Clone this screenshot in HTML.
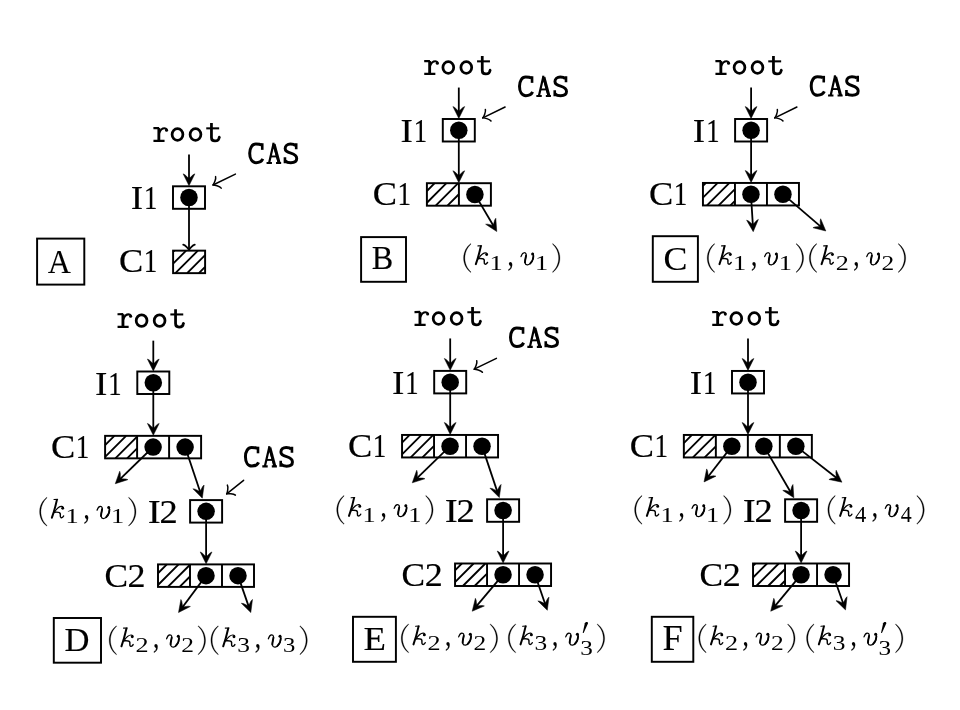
<!DOCTYPE html>
<html><head><meta charset="utf-8"><style>
html,body{margin:0;padding:0;background:#fff;width:960px;height:710px;overflow:hidden}
svg{display:block;filter:blur(0.3px)}
text{font-size:100px;font-kerning:none;fill:#000;stroke:#000;stroke-width:0}
.s{font-family:"Liberation Serif",serif}
.i{font-family:"Liberation Serif",serif;font-style:italic}
.m{font-family:"Liberation Mono",monospace}
.mb{font-family:"Liberation Mono",monospace;font-weight:bold}
.b{fill:none;stroke:#000;stroke-width:1.95}
.h{fill:none;stroke:#000;stroke-width:1.85}
.a{fill:none;stroke:#000;stroke-width:1.8}
.ah{fill:#000;stroke:#000;stroke-width:0.5;stroke-linejoin:round}
.t{fill:none;stroke:#000;stroke-width:1.5;stroke-linecap:round;stroke-linejoin:round}
</style></head><body>
<svg width="960" height="710" viewBox="0 0 960 710">
<rect x="173.00" y="186.30" width="32.00" height="22.50" class="b"/>
<circle cx="189.00" cy="197.55" r="8.75"/>
<g aria-label="root" transform="translate(-270.75 67.05)"><path d="M424.15 61.1L429.9 61.0M424.2 73.8L435.3 73.8" stroke-width="2.25" fill="none" stroke="#000"/><path d="M429.6 61.0L429.6 73.8" stroke-width="2.85" fill="none" stroke="#000"/><path d="M429.9 66.2C430.9 63.2 433.0 61.2 435.3 61.2C436.2 61.2 436.9 61.5 437.3 62.2" stroke-width="2.05" fill="none" stroke="#000" stroke-linecap="round"/><circle cx="437.3" cy="63.1" r="1.55"/><ellipse cx="448.25" cy="67.5" rx="5.4" ry="5.85" stroke-width="2.75" fill="none" stroke="#000"/><ellipse cx="466.25" cy="67.5" rx="5.4" ry="5.85" stroke-width="2.75" fill="none" stroke="#000"/><path d="M477.0 61.3L489.9 61.3" stroke-width="2.05" fill="none" stroke="#000"/><path d="M482.2 56.0L482.2 70.4C482.2 72.9 483.5 73.9 485.7 73.9C488.0 73.9 489.9 72.6 490.0 70.0" stroke-width="2.75" fill="none" stroke="#000"/><circle cx="490.0" cy="70.0" r="1.25"/></g>
<path d="M189.00 154.55L189.00 179.45" class="a"/>
<path d="M189.00 185.75L194.90 173.85L193.00 174.85L189.90 177.85L188.10 177.85L185.00 174.85L183.10 173.85Z" class="ah"/>
<text class="s" style="stroke-width:0.51" transform="matrix(0.3714 0 0 0.3409 130.75 209.36)">I</text>
<text class="s" style="stroke-width:0.59" transform="matrix(0.2676 0 0 0.3457 144.04 209.36)">1</text>
<path d="M173.10 251.95L174.40 250.65M173.10 263.70L186.15 250.65M175.40 273.15L197.90 250.65M187.15 273.15L205.10 255.20M198.90 273.15L205.10 266.95" class="h"/>
<rect x="173.10" y="250.65" width="32.00" height="22.50" class="b"/>
<path d="M189.00 197.55L189.00 250.05" class="a"/>
<path d="M183.20 244.61C185.38 244.98 188.64 248.96 189.00 250.05C189.36 248.96 192.62 244.98 194.80 244.61" class="t" style="stroke-width:1.75"/>
<text class="s" style="stroke-width:0.51" transform="matrix(0.3639 0 0 0.3471 119.05 272.47)">C</text>
<text class="s" style="stroke-width:0.60" transform="matrix(0.2704 0 0 0.3320 143.81 272.31)">1</text>
<path d="M235.40 174.10L213.00 185.00" class="t"/>
<path d="M215.59 176.62C216.29 178.95 213.90 184.12 213.00 185.00C214.25 184.83 219.79 186.15 221.20 188.13" class="t" style="stroke-width:1.5"/>
<g aria-label="CAS" transform="translate(-269.75 67.05)"><path d="M531.3 78.0C529.9 77.2 527.6 77.05 525.6 77.05C521.9 77.05 519.45 81.0 519.45 86.3C519.45 91.6 521.9 95.6 525.8 95.6C528.9 95.6 531.5 94.1 532.6 91.8" stroke-width="3.00" fill="none" stroke="#000"/><path d="M532.0 76.2L532.0 82.8" stroke-width="2.60" fill="none" stroke="#000"/><path d="M538.9 95.8L543.2 76.9M543.2 76.9L548.6 95.8" stroke-width="2.20" fill="none" stroke="#000" stroke-linejoin="round"/><path d="M543.9 77.2L548.9 95.8" stroke-width="2.90" fill="none" stroke="#000"/><path d="M542.1 76.6L544.3 76.6" stroke-width="1.90" fill="none" stroke="#000"/><path d="M540.4 89.4L547.0 89.4" stroke-width="1.90" fill="none" stroke="#000"/><path d="M536.3 95.9L541.7 95.9M545.8 95.9L550.9 95.9" stroke-width="2.10" fill="none" stroke="#000"/><path d="M565.3 78.6C563.9 77.2 562.0 77.0 560.2 77.0C557.0 77.0 554.9 78.8 554.9 81.4C554.9 84.3 557.6 85.3 560.6 86.1C564.2 87.1 566.45 88.4 566.45 91.4C566.45 94.3 564.0 95.65 560.6 95.65C558.3 95.65 556.2 95.0 554.9 93.6" stroke-width="2.95" fill="none" stroke="#000"/><path d="M565.95 76.2L565.95 82.2M554.7 90.3L554.7 96.3" stroke-width="2.60" fill="none" stroke="#000"/></g>
<rect x="37.1" y="238.6" width="47.20" height="46.00" class="b"/>
<text class="s" style="stroke-width:0.30" transform="matrix(0.3205 0 0 0.3423 47.84 273.25)">A</text>
<rect x="442.80" y="119.00" width="32.00" height="22.50" class="b"/>
<circle cx="458.80" cy="130.25" r="8.75"/>
<g aria-label="root" transform="translate(0.05 0.05)"><path d="M424.15 61.1L429.9 61.0M424.2 73.8L435.3 73.8" stroke-width="2.25" fill="none" stroke="#000"/><path d="M429.6 61.0L429.6 73.8" stroke-width="2.85" fill="none" stroke="#000"/><path d="M429.9 66.2C430.9 63.2 433.0 61.2 435.3 61.2C436.2 61.2 436.9 61.5 437.3 62.2" stroke-width="2.05" fill="none" stroke="#000" stroke-linecap="round"/><circle cx="437.3" cy="63.1" r="1.55"/><ellipse cx="448.25" cy="67.5" rx="5.4" ry="5.85" stroke-width="2.75" fill="none" stroke="#000"/><ellipse cx="466.25" cy="67.5" rx="5.4" ry="5.85" stroke-width="2.75" fill="none" stroke="#000"/><path d="M477.0 61.3L489.9 61.3" stroke-width="2.05" fill="none" stroke="#000"/><path d="M482.2 56.0L482.2 70.4C482.2 72.9 483.5 73.9 485.7 73.9C488.0 73.9 489.9 72.6 490.0 70.0" stroke-width="2.75" fill="none" stroke="#000"/><circle cx="490.0" cy="70.0" r="1.25"/></g>
<path d="M458.80 87.55L458.80 112.15" class="a"/>
<path d="M458.80 118.45L464.70 106.55L462.80 107.55L459.70 110.55L457.90 110.55L454.80 107.55L452.90 106.55Z" class="ah"/>
<text class="s" style="stroke-width:0.51" transform="matrix(0.3714 0 0 0.3409 400.55 142.06)">I</text>
<text class="s" style="stroke-width:0.59" transform="matrix(0.2676 0 0 0.3457 413.84 142.06)">1</text>
<path d="M426.90 191.00L434.70 183.20M426.90 202.75L446.45 183.20M435.70 205.70L458.20 183.20M447.45 205.70L458.90 194.25" class="h"/>
<rect x="426.90" y="183.20" width="64.00" height="22.50" class="b"/>
<line x1="458.90" y1="183.20" x2="458.90" y2="205.70" class="b"/>
<circle cx="474.90" cy="194.45" r="8.75"/>
<path d="M458.80 130.25L458.80 176.35" class="a"/>
<path d="M458.80 182.65L464.70 170.75L462.80 171.75L459.70 174.75L457.90 174.75L454.80 171.75L452.90 170.75Z" class="ah"/>
<text class="s" style="stroke-width:0.51" transform="matrix(0.3639 0 0 0.3471 372.85 205.02)">C</text>
<text class="s" style="stroke-width:0.60" transform="matrix(0.2704 0 0 0.3320 397.61 204.86)">1</text>
<path d="M505.10 107.00L482.80 117.90" class="t"/>
<path d="M485.38 109.52C486.07 111.85 483.70 117.01 482.80 117.90C484.05 117.73 489.59 119.03 491.00 121.02" class="t" style="stroke-width:1.5"/>
<g aria-label="CAS" transform="translate(0.05 0.05)"><path d="M531.3 78.0C529.9 77.2 527.6 77.05 525.6 77.05C521.9 77.05 519.45 81.0 519.45 86.3C519.45 91.6 521.9 95.6 525.8 95.6C528.9 95.6 531.5 94.1 532.6 91.8" stroke-width="3.00" fill="none" stroke="#000"/><path d="M532.0 76.2L532.0 82.8" stroke-width="2.60" fill="none" stroke="#000"/><path d="M538.9 95.8L543.2 76.9M543.2 76.9L548.6 95.8" stroke-width="2.20" fill="none" stroke="#000" stroke-linejoin="round"/><path d="M543.9 77.2L548.9 95.8" stroke-width="2.90" fill="none" stroke="#000"/><path d="M542.1 76.6L544.3 76.6" stroke-width="1.90" fill="none" stroke="#000"/><path d="M540.4 89.4L547.0 89.4" stroke-width="1.90" fill="none" stroke="#000"/><path d="M536.3 95.9L541.7 95.9M545.8 95.9L550.9 95.9" stroke-width="2.10" fill="none" stroke="#000"/><path d="M565.3 78.6C563.9 77.2 562.0 77.0 560.2 77.0C557.0 77.0 554.9 78.8 554.9 81.4C554.9 84.3 557.6 85.3 560.6 86.1C564.2 87.1 566.45 88.4 566.45 91.4C566.45 94.3 564.0 95.65 560.6 95.65C558.3 95.65 556.2 95.0 554.9 93.6" stroke-width="2.95" fill="none" stroke="#000"/><path d="M565.95 76.2L565.95 82.2M554.7 90.3L554.7 96.3" stroke-width="2.60" fill="none" stroke="#000"/></g>
<rect x="361.1" y="237.1" width="44.90" height="44.70" class="b"/>
<text class="s" style="stroke-width:0.31" transform="matrix(0.3224 0 0 0.3299 371.82 269.05)">B</text>
<rect x="735.10" y="119.00" width="32.00" height="22.50" class="b"/>
<circle cx="751.10" cy="130.25" r="8.75"/>
<g aria-label="root" transform="translate(291.25 0.05)"><path d="M424.15 61.1L429.9 61.0M424.2 73.8L435.3 73.8" stroke-width="2.25" fill="none" stroke="#000"/><path d="M429.6 61.0L429.6 73.8" stroke-width="2.85" fill="none" stroke="#000"/><path d="M429.9 66.2C430.9 63.2 433.0 61.2 435.3 61.2C436.2 61.2 436.9 61.5 437.3 62.2" stroke-width="2.05" fill="none" stroke="#000" stroke-linecap="round"/><circle cx="437.3" cy="63.1" r="1.55"/><ellipse cx="448.25" cy="67.5" rx="5.4" ry="5.85" stroke-width="2.75" fill="none" stroke="#000"/><ellipse cx="466.25" cy="67.5" rx="5.4" ry="5.85" stroke-width="2.75" fill="none" stroke="#000"/><path d="M477.0 61.3L489.9 61.3" stroke-width="2.05" fill="none" stroke="#000"/><path d="M482.2 56.0L482.2 70.4C482.2 72.9 483.5 73.9 485.7 73.9C488.0 73.9 489.9 72.6 490.0 70.0" stroke-width="2.75" fill="none" stroke="#000"/><circle cx="490.0" cy="70.0" r="1.25"/></g>
<path d="M751.10 87.55L751.10 112.15" class="a"/>
<path d="M751.10 118.45L757.00 106.55L755.10 107.55L752.00 110.55L750.20 110.55L747.10 107.55L745.20 106.55Z" class="ah"/>
<text class="s" style="stroke-width:0.51" transform="matrix(0.3714 0 0 0.3409 692.85 142.06)">I</text>
<text class="s" style="stroke-width:0.59" transform="matrix(0.2676 0 0 0.3457 706.14 142.06)">1</text>
<path d="M702.95 185.95L705.95 182.95M702.95 197.70L717.70 182.95M706.95 205.45L729.45 182.95M718.70 205.45L734.95 189.20M730.45 205.45L734.95 200.95" class="h"/>
<rect x="702.95" y="182.95" width="96.00" height="22.50" class="b"/>
<line x1="734.95" y1="182.95" x2="734.95" y2="205.45" class="b"/>
<line x1="766.95" y1="182.95" x2="766.95" y2="205.45" class="b"/>
<circle cx="750.95" cy="194.20" r="8.75"/>
<circle cx="782.95" cy="194.20" r="8.75"/>
<path d="M751.10 130.25L751.10 176.10" class="a"/>
<path d="M751.10 182.40L757.00 170.50L755.10 171.50L752.00 174.50L750.20 174.50L747.10 171.50L745.20 170.50Z" class="ah"/>
<text class="s" style="stroke-width:0.51" transform="matrix(0.3639 0 0 0.3471 648.90 204.77)">C</text>
<text class="s" style="stroke-width:0.60" transform="matrix(0.2704 0 0 0.3320 673.66 204.61)">1</text>
<path d="M796.90 107.00L774.80 117.90" class="t"/>
<path d="M777.35 109.51C778.05 111.84 775.70 117.01 774.80 117.90C776.05 117.73 781.59 119.01 783.01 120.99" class="t" style="stroke-width:1.5"/>
<g aria-label="CAS" transform="translate(291.75 -0.35)"><path d="M531.3 78.0C529.9 77.2 527.6 77.05 525.6 77.05C521.9 77.05 519.45 81.0 519.45 86.3C519.45 91.6 521.9 95.6 525.8 95.6C528.9 95.6 531.5 94.1 532.6 91.8" stroke-width="3.00" fill="none" stroke="#000"/><path d="M532.0 76.2L532.0 82.8" stroke-width="2.60" fill="none" stroke="#000"/><path d="M538.9 95.8L543.2 76.9M543.2 76.9L548.6 95.8" stroke-width="2.20" fill="none" stroke="#000" stroke-linejoin="round"/><path d="M543.9 77.2L548.9 95.8" stroke-width="2.90" fill="none" stroke="#000"/><path d="M542.1 76.6L544.3 76.6" stroke-width="1.90" fill="none" stroke="#000"/><path d="M540.4 89.4L547.0 89.4" stroke-width="1.90" fill="none" stroke="#000"/><path d="M536.3 95.9L541.7 95.9M545.8 95.9L550.9 95.9" stroke-width="2.10" fill="none" stroke="#000"/><path d="M565.3 78.6C563.9 77.2 562.0 77.0 560.2 77.0C557.0 77.0 554.9 78.8 554.9 81.4C554.9 84.3 557.6 85.3 560.6 86.1C564.2 87.1 566.45 88.4 566.45 91.4C566.45 94.3 564.0 95.65 560.6 95.65C558.3 95.65 556.2 95.0 554.9 93.6" stroke-width="2.95" fill="none" stroke="#000"/><path d="M565.95 76.2L565.95 82.2M554.7 90.3L554.7 96.3" stroke-width="2.60" fill="none" stroke="#000"/></g>
<rect x="652.8" y="236.2" width="45.10" height="45.60" class="b"/>
<text class="s" style="stroke-width:0.29" transform="matrix(0.3591 0 0 0.3423 663.38 269.52)">C</text>
<rect x="137.30" y="371.50" width="32.00" height="22.50" class="b"/>
<circle cx="153.30" cy="382.75" r="8.75"/>
<g aria-label="root" transform="translate(-306.65 253.15)"><path d="M424.15 61.1L429.9 61.0M424.2 73.8L435.3 73.8" stroke-width="2.25" fill="none" stroke="#000"/><path d="M429.6 61.0L429.6 73.8" stroke-width="2.85" fill="none" stroke="#000"/><path d="M429.9 66.2C430.9 63.2 433.0 61.2 435.3 61.2C436.2 61.2 436.9 61.5 437.3 62.2" stroke-width="2.05" fill="none" stroke="#000" stroke-linecap="round"/><circle cx="437.3" cy="63.1" r="1.55"/><ellipse cx="448.25" cy="67.5" rx="5.4" ry="5.85" stroke-width="2.75" fill="none" stroke="#000"/><ellipse cx="466.25" cy="67.5" rx="5.4" ry="5.85" stroke-width="2.75" fill="none" stroke="#000"/><path d="M477.0 61.3L489.9 61.3" stroke-width="2.05" fill="none" stroke="#000"/><path d="M482.2 56.0L482.2 70.4C482.2 72.9 483.5 73.9 485.7 73.9C488.0 73.9 489.9 72.6 490.0 70.0" stroke-width="2.75" fill="none" stroke="#000"/><circle cx="490.0" cy="70.0" r="1.25"/></g>
<path d="M153.30 340.65L153.30 364.65" class="a"/>
<path d="M153.30 370.95L159.20 359.05L157.30 360.05L154.20 363.05L152.40 363.05L149.30 360.05L147.40 359.05Z" class="ah"/>
<text class="s" style="stroke-width:0.51" transform="matrix(0.3714 0 0 0.3409 95.05 394.56)">I</text>
<text class="s" style="stroke-width:0.59" transform="matrix(0.2676 0 0 0.3457 108.34 394.56)">1</text>
<path d="M105.10 445.10L114.35 435.85M105.10 456.85L126.10 435.85M115.35 458.35L137.10 436.60M127.10 458.35L137.10 448.35" class="h"/>
<rect x="105.10" y="435.85" width="96.00" height="22.50" class="b"/>
<line x1="137.10" y1="435.85" x2="137.10" y2="458.35" class="b"/>
<line x1="169.10" y1="435.85" x2="169.10" y2="458.35" class="b"/>
<circle cx="153.10" cy="447.10" r="8.75"/>
<circle cx="185.10" cy="447.10" r="8.75"/>
<path d="M153.30 382.75L153.30 429.00" class="a"/>
<path d="M153.30 435.30L159.20 423.40L157.30 424.40L154.20 427.40L152.40 427.40L149.30 424.40L147.40 423.40Z" class="ah"/>
<text class="s" style="stroke-width:0.51" transform="matrix(0.3639 0 0 0.3471 51.05 457.67)">C</text>
<text class="s" style="stroke-width:0.60" transform="matrix(0.2704 0 0 0.3320 75.81 457.51)">1</text>
<rect x="190.10" y="500.10" width="32.00" height="22.50" class="b"/>
<circle cx="206.10" cy="511.35" r="8.75"/>
<text class="s" style="stroke-width:0.49" transform="matrix(0.3905 0 0 0.3393 147.78 522.71)">I</text>
<text class="s" style="stroke-width:0.51" transform="matrix(0.3647 0 0 0.3394 159.59 522.71)">2</text>
<path d="M158.00 573.25L166.85 564.40M158.00 585.00L178.60 564.40M167.85 586.90L190.00 564.75M179.60 586.90L190.00 576.50" class="h"/>
<rect x="158.00" y="564.40" width="96.00" height="22.50" class="b"/>
<line x1="190.00" y1="564.40" x2="190.00" y2="586.90" class="b"/>
<line x1="222.00" y1="564.40" x2="222.00" y2="586.90" class="b"/>
<circle cx="206.00" cy="575.65" r="8.75"/>
<circle cx="238.00" cy="575.65" r="8.75"/>
<path d="M206.10 511.35L206.10 557.55" class="a"/>
<path d="M206.10 563.85L212.00 551.95L210.10 552.95L207.00 555.95L205.20 555.95L202.10 552.95L200.20 551.95Z" class="ah"/>
<text class="s" style="stroke-width:0.51" transform="matrix(0.3534 0 0 0.3471 104.54 586.87)">C</text>
<text class="s" style="stroke-width:0.51" transform="matrix(0.3610 0 0 0.3401 127.60 586.76)">2</text>
<path d="M243.60 480.30L226.70 493.90" class="t"/>
<path d="M227.36 485.15C228.56 487.27 227.38 492.84 226.70 493.90C227.89 493.46 233.57 493.51 235.39 495.12" class="t" style="stroke-width:1.5"/>
<g aria-label="CAS" transform="translate(-274.00 370.50)"><path d="M531.3 78.0C529.9 77.2 527.6 77.05 525.6 77.05C521.9 77.05 519.45 81.0 519.45 86.3C519.45 91.6 521.9 95.6 525.8 95.6C528.9 95.6 531.5 94.1 532.6 91.8" stroke-width="3.00" fill="none" stroke="#000"/><path d="M532.0 76.2L532.0 82.8" stroke-width="2.60" fill="none" stroke="#000"/><path d="M538.9 95.8L543.2 76.9M543.2 76.9L548.6 95.8" stroke-width="2.20" fill="none" stroke="#000" stroke-linejoin="round"/><path d="M543.9 77.2L548.9 95.8" stroke-width="2.90" fill="none" stroke="#000"/><path d="M542.1 76.6L544.3 76.6" stroke-width="1.90" fill="none" stroke="#000"/><path d="M540.4 89.4L547.0 89.4" stroke-width="1.90" fill="none" stroke="#000"/><path d="M536.3 95.9L541.7 95.9M545.8 95.9L550.9 95.9" stroke-width="2.10" fill="none" stroke="#000"/><path d="M565.3 78.6C563.9 77.2 562.0 77.0 560.2 77.0C557.0 77.0 554.9 78.8 554.9 81.4C554.9 84.3 557.6 85.3 560.6 86.1C564.2 87.1 566.45 88.4 566.45 91.4C566.45 94.3 564.0 95.65 560.6 95.65C558.3 95.65 556.2 95.0 554.9 93.6" stroke-width="2.95" fill="none" stroke="#000"/><path d="M565.95 76.2L565.95 82.2M554.7 90.3L554.7 96.3" stroke-width="2.60" fill="none" stroke="#000"/></g>
<rect x="53.8" y="618.0" width="47.20" height="44.70" class="b"/>
<text class="s" style="stroke-width:0.29" transform="matrix(0.3459 0 0 0.3411 64.55 650.68)">D</text>
<rect x="434.20" y="370.90" width="32.00" height="22.50" class="b"/>
<circle cx="450.20" cy="382.15" r="8.75"/>
<g aria-label="root" transform="translate(-9.65 250.95)"><path d="M424.15 61.1L429.9 61.0M424.2 73.8L435.3 73.8" stroke-width="2.25" fill="none" stroke="#000"/><path d="M429.6 61.0L429.6 73.8" stroke-width="2.85" fill="none" stroke="#000"/><path d="M429.9 66.2C430.9 63.2 433.0 61.2 435.3 61.2C436.2 61.2 436.9 61.5 437.3 62.2" stroke-width="2.05" fill="none" stroke="#000" stroke-linecap="round"/><circle cx="437.3" cy="63.1" r="1.55"/><ellipse cx="448.25" cy="67.5" rx="5.4" ry="5.85" stroke-width="2.75" fill="none" stroke="#000"/><ellipse cx="466.25" cy="67.5" rx="5.4" ry="5.85" stroke-width="2.75" fill="none" stroke="#000"/><path d="M477.0 61.3L489.9 61.3" stroke-width="2.05" fill="none" stroke="#000"/><path d="M482.2 56.0L482.2 70.4C482.2 72.9 483.5 73.9 485.7 73.9C488.0 73.9 489.9 72.6 490.0 70.0" stroke-width="2.75" fill="none" stroke="#000"/><circle cx="490.0" cy="70.0" r="1.25"/></g>
<path d="M450.20 338.45L450.20 364.05" class="a"/>
<path d="M450.20 370.35L456.10 358.45L454.20 359.45L451.10 362.45L449.30 362.45L446.20 359.45L444.30 358.45Z" class="ah"/>
<text class="s" style="stroke-width:0.51" transform="matrix(0.3714 0 0 0.3409 391.95 393.96)">I</text>
<text class="s" style="stroke-width:0.59" transform="matrix(0.2676 0 0 0.3457 405.24 393.96)">1</text>
<path d="M402.05 442.65L409.75 434.95M402.05 454.40L421.50 434.95M410.75 457.45L433.25 434.95M422.50 457.45L434.05 445.90" class="h"/>
<rect x="402.05" y="434.95" width="96.00" height="22.50" class="b"/>
<line x1="434.05" y1="434.95" x2="434.05" y2="457.45" class="b"/>
<line x1="466.05" y1="434.95" x2="466.05" y2="457.45" class="b"/>
<circle cx="450.05" cy="446.20" r="8.75"/>
<circle cx="482.05" cy="446.20" r="8.75"/>
<path d="M450.20 382.15L450.20 428.10" class="a"/>
<path d="M450.20 434.40L456.10 422.50L454.20 423.50L451.10 426.50L449.30 426.50L446.20 423.50L444.30 422.50Z" class="ah"/>
<text class="s" style="stroke-width:0.51" transform="matrix(0.3639 0 0 0.3471 348.00 456.77)">C</text>
<text class="s" style="stroke-width:0.60" transform="matrix(0.2704 0 0 0.3320 372.76 456.61)">1</text>
<rect x="487.10" y="499.30" width="32.00" height="22.50" class="b"/>
<circle cx="503.10" cy="510.55" r="8.75"/>
<text class="s" style="stroke-width:0.49" transform="matrix(0.3905 0 0 0.3393 444.78 521.91)">I</text>
<text class="s" style="stroke-width:0.51" transform="matrix(0.3647 0 0 0.3394 456.59 521.91)">2</text>
<path d="M455.05 570.30L461.85 563.50M455.05 582.05L473.60 563.50M462.85 586.00L485.35 563.50M474.60 586.00L487.05 573.55M486.35 586.00L487.05 585.30" class="h"/>
<rect x="455.05" y="563.50" width="96.00" height="22.50" class="b"/>
<line x1="487.05" y1="563.50" x2="487.05" y2="586.00" class="b"/>
<line x1="519.05" y1="563.50" x2="519.05" y2="586.00" class="b"/>
<circle cx="503.05" cy="574.75" r="8.75"/>
<circle cx="535.05" cy="574.75" r="8.75"/>
<path d="M503.10 510.55L503.10 556.65" class="a"/>
<path d="M503.10 562.95L509.00 551.05L507.10 552.05L504.00 555.05L502.20 555.05L499.10 552.05L497.20 551.05Z" class="ah"/>
<text class="s" style="stroke-width:0.51" transform="matrix(0.3534 0 0 0.3471 401.59 585.97)">C</text>
<text class="s" style="stroke-width:0.51" transform="matrix(0.3610 0 0 0.3401 424.65 585.86)">2</text>
<path d="M496.40 358.30L474.20 369.20" class="t"/>
<path d="M476.77 360.81C477.46 363.14 475.10 368.31 474.20 369.20C475.45 369.03 480.99 370.32 482.41 372.30" class="t" style="stroke-width:1.5"/>
<g aria-label="CAS" transform="translate(-8.95 250.95)"><path d="M531.3 78.0C529.9 77.2 527.6 77.05 525.6 77.05C521.9 77.05 519.45 81.0 519.45 86.3C519.45 91.6 521.9 95.6 525.8 95.6C528.9 95.6 531.5 94.1 532.6 91.8" stroke-width="3.00" fill="none" stroke="#000"/><path d="M532.0 76.2L532.0 82.8" stroke-width="2.60" fill="none" stroke="#000"/><path d="M538.9 95.8L543.2 76.9M543.2 76.9L548.6 95.8" stroke-width="2.20" fill="none" stroke="#000" stroke-linejoin="round"/><path d="M543.9 77.2L548.9 95.8" stroke-width="2.90" fill="none" stroke="#000"/><path d="M542.1 76.6L544.3 76.6" stroke-width="1.90" fill="none" stroke="#000"/><path d="M540.4 89.4L547.0 89.4" stroke-width="1.90" fill="none" stroke="#000"/><path d="M536.3 95.9L541.7 95.9M545.8 95.9L550.9 95.9" stroke-width="2.10" fill="none" stroke="#000"/><path d="M565.3 78.6C563.9 77.2 562.0 77.0 560.2 77.0C557.0 77.0 554.9 78.8 554.9 81.4C554.9 84.3 557.6 85.3 560.6 86.1C564.2 87.1 566.45 88.4 566.45 91.4C566.45 94.3 564.0 95.65 560.6 95.65C558.3 95.65 556.2 95.0 554.9 93.6" stroke-width="2.95" fill="none" stroke="#000"/><path d="M565.95 76.2L565.95 82.2M554.7 90.3L554.7 96.3" stroke-width="2.60" fill="none" stroke="#000"/></g>
<rect x="353.0" y="616.8" width="42.90" height="45.00" class="b"/>
<text class="s" style="stroke-width:0.28" transform="matrix(0.3683 0 0 0.3436 363.39 649.75)">E</text>
<rect x="732.00" y="370.95" width="32.00" height="22.50" class="b"/>
<circle cx="748.00" cy="382.20" r="8.75"/>
<g aria-label="root" transform="translate(288.05 251.00)"><path d="M424.15 61.1L429.9 61.0M424.2 73.8L435.3 73.8" stroke-width="2.25" fill="none" stroke="#000"/><path d="M429.6 61.0L429.6 73.8" stroke-width="2.85" fill="none" stroke="#000"/><path d="M429.9 66.2C430.9 63.2 433.0 61.2 435.3 61.2C436.2 61.2 436.9 61.5 437.3 62.2" stroke-width="2.05" fill="none" stroke="#000" stroke-linecap="round"/><circle cx="437.3" cy="63.1" r="1.55"/><ellipse cx="448.25" cy="67.5" rx="5.4" ry="5.85" stroke-width="2.75" fill="none" stroke="#000"/><ellipse cx="466.25" cy="67.5" rx="5.4" ry="5.85" stroke-width="2.75" fill="none" stroke="#000"/><path d="M477.0 61.3L489.9 61.3" stroke-width="2.05" fill="none" stroke="#000"/><path d="M482.2 56.0L482.2 70.4C482.2 72.9 483.5 73.9 485.7 73.9C488.0 73.9 489.9 72.6 490.0 70.0" stroke-width="2.75" fill="none" stroke="#000"/><circle cx="490.0" cy="70.0" r="1.25"/></g>
<path d="M748.00 338.50L748.00 364.10" class="a"/>
<path d="M748.00 370.40L753.90 358.50L752.00 359.50L748.90 362.50L747.10 362.50L744.00 359.50L742.10 358.50Z" class="ah"/>
<text class="s" style="stroke-width:0.51" transform="matrix(0.3714 0 0 0.3409 689.75 394.01)">I</text>
<text class="s" style="stroke-width:0.59" transform="matrix(0.2676 0 0 0.3457 703.04 394.01)">1</text>
<path d="M683.85 443.05L691.95 434.95M683.85 454.80L703.70 434.95M692.95 457.45L715.45 434.95M704.70 457.45L715.85 446.30" class="h"/>
<rect x="683.85" y="434.95" width="128.00" height="22.50" class="b"/>
<line x1="715.85" y1="434.95" x2="715.85" y2="457.45" class="b"/>
<line x1="747.85" y1="434.95" x2="747.85" y2="457.45" class="b"/>
<line x1="779.85" y1="434.95" x2="779.85" y2="457.45" class="b"/>
<circle cx="731.85" cy="446.20" r="8.75"/>
<circle cx="763.85" cy="446.20" r="8.75"/>
<circle cx="795.85" cy="446.20" r="8.75"/>
<path d="M748.00 382.20L748.00 428.10" class="a"/>
<path d="M748.00 434.40L753.90 422.50L752.00 423.50L748.90 426.50L747.10 426.50L744.00 423.50L742.10 422.50Z" class="ah"/>
<text class="s" style="stroke-width:0.51" transform="matrix(0.3639 0 0 0.3471 629.80 456.77)">C</text>
<text class="s" style="stroke-width:0.60" transform="matrix(0.2704 0 0 0.3320 654.56 456.61)">1</text>
<rect x="785.10" y="499.30" width="32.00" height="22.50" class="b"/>
<circle cx="801.10" cy="510.55" r="8.75"/>
<text class="s" style="stroke-width:0.49" transform="matrix(0.3905 0 0 0.3393 742.78 521.91)">I</text>
<text class="s" style="stroke-width:0.51" transform="matrix(0.3647 0 0 0.3394 754.59 521.91)">2</text>
<path d="M753.05 565.75L755.30 563.50M753.05 577.50L767.05 563.50M756.30 586.00L778.80 563.50M768.05 586.00L785.05 569.00M779.80 586.00L785.05 580.75" class="h"/>
<rect x="753.05" y="563.50" width="96.00" height="22.50" class="b"/>
<line x1="785.05" y1="563.50" x2="785.05" y2="586.00" class="b"/>
<line x1="817.05" y1="563.50" x2="817.05" y2="586.00" class="b"/>
<circle cx="801.05" cy="574.75" r="8.75"/>
<circle cx="833.05" cy="574.75" r="8.75"/>
<path d="M801.10 510.55L801.10 556.65" class="a"/>
<path d="M801.10 562.95L807.00 551.05L805.10 552.05L802.00 555.05L800.20 555.05L797.10 552.05L795.20 551.05Z" class="ah"/>
<text class="s" style="stroke-width:0.51" transform="matrix(0.3534 0 0 0.3471 699.59 585.97)">C</text>
<text class="s" style="stroke-width:0.51" transform="matrix(0.3610 0 0 0.3401 722.65 585.86)">2</text>
<rect x="651.8" y="616.8" width="41.50" height="45.00" class="b"/>
<text class="s" style="stroke-width:0.28" transform="matrix(0.3624 0 0 0.3482 662.51 649.85)">F</text>
<path d="M474.90 194.40L493.56 226.08" class="a"/>
<path d="M496.75 231.51L495.80 218.26L494.67 220.09L493.52 224.24L491.97 225.16L487.77 224.15L485.63 224.25Z" class="ah"/>
<path d="M750.95 194.10L752.84 225.36" class="a"/>
<path d="M753.22 231.65L758.39 219.42L756.55 220.53L753.64 223.71L751.84 223.82L748.57 221.01L746.61 220.13Z" class="ah"/>
<path d="M782.95 194.10L821.05 226.89" class="a"/>
<path d="M825.83 231.00L820.66 218.76L820.17 220.85L820.43 225.16L819.25 226.53L814.96 226.92L812.96 227.71Z" class="ah"/>
<path d="M153.10 447.00L119.81 479.32" class="a"/>
<path d="M115.28 483.71L127.93 479.65L125.89 478.99L121.58 478.85L120.33 477.56L120.32 473.25L119.71 471.19Z" class="ah"/>
<path d="M185.10 447.00L200.29 492.21" class="a"/>
<path d="M202.30 498.18L204.10 485.03L202.62 486.58L200.63 490.41L198.93 490.98L195.03 489.13L192.91 488.78Z" class="ah"/>
<path d="M206.00 575.60L182.28 607.49" class="a"/>
<path d="M178.52 612.54L190.36 606.51L188.24 606.18L183.96 606.74L182.51 605.66L181.82 601.41L180.89 599.47Z" class="ah"/>
<path d="M238.00 575.60L248.74 606.63" class="a"/>
<path d="M250.80 612.58L252.48 599.41L251.01 600.97L249.07 604.82L247.36 605.41L243.45 603.59L241.33 603.27Z" class="ah"/>
<path d="M450.05 446.10L416.80 478.42" class="a"/>
<path d="M412.28 482.81L424.93 478.75L422.89 478.08L418.58 477.95L417.32 476.66L417.31 472.34L416.71 470.28Z" class="ah"/>
<path d="M482.05 446.10L497.29 491.61" class="a"/>
<path d="M499.30 497.58L501.11 484.43L499.63 485.98L497.64 489.81L495.93 490.38L492.04 488.52L489.92 488.17Z" class="ah"/>
<path d="M503.05 574.70L476.27 606.42" class="a"/>
<path d="M472.21 611.23L484.39 605.94L482.29 605.48L477.99 605.77L476.62 604.61L476.18 600.32L475.38 598.33Z" class="ah"/>
<path d="M535.05 574.70L545.25 604.33" class="a"/>
<path d="M547.30 610.28L549.00 597.11L547.53 598.68L545.58 602.52L543.88 603.11L539.97 601.28L537.85 600.95Z" class="ah"/>
<path d="M731.85 446.10L707.88 476.96" class="a"/>
<path d="M704.02 481.94L715.98 476.16L713.86 475.78L709.57 476.25L708.15 475.15L707.54 470.87L706.66 468.92Z" class="ah"/>
<path d="M763.85 446.10L790.69 492.31" class="a"/>
<path d="M793.85 497.76L792.98 484.51L791.84 486.32L790.66 490.48L789.11 491.38L784.92 490.34L782.77 490.43Z" class="ah"/>
<path d="M795.85 446.10L836.98 478.30" class="a"/>
<path d="M841.94 482.18L836.20 470.20L835.82 472.32L836.27 476.61L835.16 478.02L830.89 478.61L828.93 479.49Z" class="ah"/>
<path d="M801.05 574.70L774.73 606.38" class="a"/>
<path d="M770.71 611.23L782.85 605.85L780.75 605.40L776.45 605.73L775.06 604.58L774.60 600.29L773.77 598.31Z" class="ah"/>
<path d="M833.05 574.70L843.40 603.94" class="a"/>
<path d="M845.50 609.88L847.09 596.70L845.63 598.27L843.71 602.14L842.02 602.74L838.09 600.94L835.97 600.63Z" class="ah"/>
<g transform="matrix(0.9740 0 0 0.9931 463.55 243.60)"><path d="M7.4 0.0C2.5 3.7 0.0 9.0 0.0 14.55C0.0 20.1 2.5 25.4 7.4 29.1L7.7 28.6C3.7 25.1 1.35 19.9 1.35 14.55C1.35 9.2 3.7 4.0 7.7 0.5Z" stroke="#000" stroke-width="0.25"/></g>
<g transform="matrix(1.0000 0 0 1.0000 474.65 245.20)"><path d="M6.2 1.1 C5.0 6.5 2.8 14.5 1.2 18.9" fill="none" stroke="#000" stroke-width="2.0" stroke-linecap="round" stroke-linejoin="round"/><path d="M3.3 0.7 L6.9 0.55" fill="none" stroke="#000" stroke-width="1.15" stroke-linecap="round" stroke-linejoin="round"/><path d="M3.5 13.7 C5.5 10.6 8.5 7.5 10.9 7.6 C12.4 7.7 12.7 8.6 12.4 9.5" fill="none" stroke="#000" stroke-width="1.2" stroke-linecap="round" stroke-linejoin="round"/><path d="M3.8 13.4 C6.0 13.2 9.3 12.9 9.6 15.0 C9.8 16.6 9.0 18.5 10.4 18.9 C11.6 19.2 12.5 18.0 12.9 17.2" fill="none" stroke="#000" stroke-width="1.45" stroke-linecap="round" stroke-linejoin="round"/><circle cx="12.0" cy="9.4" r="1.45"/></g>
<text class="s" transform="matrix(0.2642 0 0 0.2196 489.43 269.80)">1</text>
<text class="s" style="stroke-width:0.61" transform="matrix(0.2498 0 0 0.3434 507.39 265.53)">,</text>
<g transform="matrix(1.0000 0 0 1.0000 520.45 252.00)"><path d="M0.55 4.6 C1.2 2.6 2.4 0.8 3.8 0.75 C5.8 0.7 6.1 2.6 5.4 5.2 C4.8 7.4 4.3 9.0 4.6 10.8 C4.9 12.6 6.2 13.0 7.4 12.9 C10.5 12.6 13.0 8.5 13.0 4.0 C13.0 2.4 12.7 1.6 12.3 1.3" fill="none" stroke="#000" stroke-width="1.25" stroke-linecap="round" stroke-linejoin="round"/><path d="M5.6 3.6 C5.2 6.0 4.5 8.2 4.55 10.4" fill="none" stroke="#000" stroke-width="1.9" stroke-linecap="round" stroke-linejoin="round"/><path d="M13.0 3.8 C13.0 6.5 11.8 9.5 9.6 11.6" fill="none" stroke="#000" stroke-width="1.7" stroke-linecap="round" stroke-linejoin="round"/><circle cx="12.2" cy="2.0" r="1.5"/></g>
<text class="s" transform="matrix(0.2642 0 0 0.2196 535.03 269.80)">1</text>
<g transform="matrix(0.9740 0 0 0.9931 552.45 243.60)"><path d="M0.3 0.0C5.2 3.7 7.7 9.0 7.7 14.55C7.7 20.1 5.2 25.4 0.3 29.1L0.0 28.6C4.0 25.1 6.35 19.9 6.35 14.55C6.35 9.2 4.0 4.0 0.0 0.5Z" stroke="#000" stroke-width="0.25"/></g>
<g transform="matrix(0.9740 0 0 0.9931 707.20 243.60)"><path d="M7.4 0.0C2.5 3.7 0.0 9.0 0.0 14.55C0.0 20.1 2.5 25.4 7.4 29.1L7.7 28.6C3.7 25.1 1.35 19.9 1.35 14.55C1.35 9.2 3.7 4.0 7.7 0.5Z" stroke="#000" stroke-width="0.25"/></g>
<g transform="matrix(1.0000 0 0 1.0000 718.30 245.20)"><path d="M6.2 1.1 C5.0 6.5 2.8 14.5 1.2 18.9" fill="none" stroke="#000" stroke-width="2.0" stroke-linecap="round" stroke-linejoin="round"/><path d="M3.3 0.7 L6.9 0.55" fill="none" stroke="#000" stroke-width="1.15" stroke-linecap="round" stroke-linejoin="round"/><path d="M3.5 13.7 C5.5 10.6 8.5 7.5 10.9 7.6 C12.4 7.7 12.7 8.6 12.4 9.5" fill="none" stroke="#000" stroke-width="1.2" stroke-linecap="round" stroke-linejoin="round"/><path d="M3.8 13.4 C6.0 13.2 9.3 12.9 9.6 15.0 C9.8 16.6 9.0 18.5 10.4 18.9 C11.6 19.2 12.5 18.0 12.9 17.2" fill="none" stroke="#000" stroke-width="1.45" stroke-linecap="round" stroke-linejoin="round"/><circle cx="12.0" cy="9.4" r="1.45"/></g>
<text class="s" transform="matrix(0.2642 0 0 0.2196 733.08 269.80)">1</text>
<text class="s" style="stroke-width:0.61" transform="matrix(0.2498 0 0 0.3434 751.04 265.53)">,</text>
<g transform="matrix(1.0000 0 0 1.0000 764.10 252.00)"><path d="M0.55 4.6 C1.2 2.6 2.4 0.8 3.8 0.75 C5.8 0.7 6.1 2.6 5.4 5.2 C4.8 7.4 4.3 9.0 4.6 10.8 C4.9 12.6 6.2 13.0 7.4 12.9 C10.5 12.6 13.0 8.5 13.0 4.0 C13.0 2.4 12.7 1.6 12.3 1.3" fill="none" stroke="#000" stroke-width="1.25" stroke-linecap="round" stroke-linejoin="round"/><path d="M5.6 3.6 C5.2 6.0 4.5 8.2 4.55 10.4" fill="none" stroke="#000" stroke-width="1.9" stroke-linecap="round" stroke-linejoin="round"/><path d="M13.0 3.8 C13.0 6.5 11.8 9.5 9.6 11.6" fill="none" stroke="#000" stroke-width="1.7" stroke-linecap="round" stroke-linejoin="round"/><circle cx="12.2" cy="2.0" r="1.5"/></g>
<text class="s" transform="matrix(0.2642 0 0 0.2196 778.68 269.80)">1</text>
<g transform="matrix(0.9740 0 0 0.9931 796.10 243.60)"><path d="M0.3 0.0C5.2 3.7 7.7 9.0 7.7 14.55C7.7 20.1 5.2 25.4 0.3 29.1L0.0 28.6C4.0 25.1 6.35 19.9 6.35 14.55C6.35 9.2 4.0 4.0 0.0 0.5Z" stroke="#000" stroke-width="0.25"/></g>
<g transform="matrix(0.9740 0 0 0.9931 809.30 243.60)"><path d="M7.4 0.0C2.5 3.7 0.0 9.0 0.0 14.55C0.0 20.1 2.5 25.4 7.4 29.1L7.7 28.6C3.7 25.1 1.35 19.9 1.35 14.55C1.35 9.2 3.7 4.0 7.7 0.5Z" stroke="#000" stroke-width="0.25"/></g>
<g transform="matrix(1.0000 0 0 1.0000 820.40 245.20)"><path d="M6.2 1.1 C5.0 6.5 2.8 14.5 1.2 18.9" fill="none" stroke="#000" stroke-width="2.0" stroke-linecap="round" stroke-linejoin="round"/><path d="M3.3 0.7 L6.9 0.55" fill="none" stroke="#000" stroke-width="1.15" stroke-linecap="round" stroke-linejoin="round"/><path d="M3.5 13.7 C5.5 10.6 8.5 7.5 10.9 7.6 C12.4 7.7 12.7 8.6 12.4 9.5" fill="none" stroke="#000" stroke-width="1.2" stroke-linecap="round" stroke-linejoin="round"/><path d="M3.8 13.4 C6.0 13.2 9.3 12.9 9.6 15.0 C9.8 16.6 9.0 18.5 10.4 18.9 C11.6 19.2 12.5 18.0 12.9 17.2" fill="none" stroke="#000" stroke-width="1.45" stroke-linecap="round" stroke-linejoin="round"/><circle cx="12.0" cy="9.4" r="1.45"/></g>
<text class="s" transform="matrix(0.2619 0 0 0.2190 835.65 269.80)">2</text>
<text class="s" style="stroke-width:0.61" transform="matrix(0.2498 0 0 0.3434 853.14 265.53)">,</text>
<g transform="matrix(1.0000 0 0 1.0000 866.20 252.00)"><path d="M0.55 4.6 C1.2 2.6 2.4 0.8 3.8 0.75 C5.8 0.7 6.1 2.6 5.4 5.2 C4.8 7.4 4.3 9.0 4.6 10.8 C4.9 12.6 6.2 13.0 7.4 12.9 C10.5 12.6 13.0 8.5 13.0 4.0 C13.0 2.4 12.7 1.6 12.3 1.3" fill="none" stroke="#000" stroke-width="1.25" stroke-linecap="round" stroke-linejoin="round"/><path d="M5.6 3.6 C5.2 6.0 4.5 8.2 4.55 10.4" fill="none" stroke="#000" stroke-width="1.9" stroke-linecap="round" stroke-linejoin="round"/><path d="M13.0 3.8 C13.0 6.5 11.8 9.5 9.6 11.6" fill="none" stroke="#000" stroke-width="1.7" stroke-linecap="round" stroke-linejoin="round"/><circle cx="12.2" cy="2.0" r="1.5"/></g>
<text class="s" transform="matrix(0.2544 0 0 0.2190 881.48 269.80)">2</text>
<g transform="matrix(0.9740 0 0 0.9931 898.20 243.60)"><path d="M0.3 0.0C5.2 3.7 7.7 9.0 7.7 14.55C7.7 20.1 5.2 25.4 0.3 29.1L0.0 28.6C4.0 25.1 6.35 19.9 6.35 14.55C6.35 9.2 4.0 4.0 0.0 0.5Z" stroke="#000" stroke-width="0.25"/></g>
<g transform="matrix(0.9740 0 0 0.9931 39.60 497.20)"><path d="M7.4 0.0C2.5 3.7 0.0 9.0 0.0 14.55C0.0 20.1 2.5 25.4 7.4 29.1L7.7 28.6C3.7 25.1 1.35 19.9 1.35 14.55C1.35 9.2 3.7 4.0 7.7 0.5Z" stroke="#000" stroke-width="0.25"/></g>
<g transform="matrix(1.0000 0 0 1.0000 50.70 498.80)"><path d="M6.2 1.1 C5.0 6.5 2.8 14.5 1.2 18.9" fill="none" stroke="#000" stroke-width="2.0" stroke-linecap="round" stroke-linejoin="round"/><path d="M3.3 0.7 L6.9 0.55" fill="none" stroke="#000" stroke-width="1.15" stroke-linecap="round" stroke-linejoin="round"/><path d="M3.5 13.7 C5.5 10.6 8.5 7.5 10.9 7.6 C12.4 7.7 12.7 8.6 12.4 9.5" fill="none" stroke="#000" stroke-width="1.2" stroke-linecap="round" stroke-linejoin="round"/><path d="M3.8 13.4 C6.0 13.2 9.3 12.9 9.6 15.0 C9.8 16.6 9.0 18.5 10.4 18.9 C11.6 19.2 12.5 18.0 12.9 17.2" fill="none" stroke="#000" stroke-width="1.45" stroke-linecap="round" stroke-linejoin="round"/><circle cx="12.0" cy="9.4" r="1.45"/></g>
<text class="s" transform="matrix(0.2642 0 0 0.2196 65.48 523.40)">1</text>
<text class="s" style="stroke-width:0.61" transform="matrix(0.2498 0 0 0.3434 83.44 519.13)">,</text>
<g transform="matrix(1.0000 0 0 1.0000 96.50 505.60)"><path d="M0.55 4.6 C1.2 2.6 2.4 0.8 3.8 0.75 C5.8 0.7 6.1 2.6 5.4 5.2 C4.8 7.4 4.3 9.0 4.6 10.8 C4.9 12.6 6.2 13.0 7.4 12.9 C10.5 12.6 13.0 8.5 13.0 4.0 C13.0 2.4 12.7 1.6 12.3 1.3" fill="none" stroke="#000" stroke-width="1.25" stroke-linecap="round" stroke-linejoin="round"/><path d="M5.6 3.6 C5.2 6.0 4.5 8.2 4.55 10.4" fill="none" stroke="#000" stroke-width="1.9" stroke-linecap="round" stroke-linejoin="round"/><path d="M13.0 3.8 C13.0 6.5 11.8 9.5 9.6 11.6" fill="none" stroke="#000" stroke-width="1.7" stroke-linecap="round" stroke-linejoin="round"/><circle cx="12.2" cy="2.0" r="1.5"/></g>
<text class="s" transform="matrix(0.2642 0 0 0.2196 111.08 523.40)">1</text>
<g transform="matrix(0.9740 0 0 0.9931 128.50 497.20)"><path d="M0.3 0.0C5.2 3.7 7.7 9.0 7.7 14.55C7.7 20.1 5.2 25.4 0.3 29.1L0.0 28.6C4.0 25.1 6.35 19.9 6.35 14.55C6.35 9.2 4.0 4.0 0.0 0.5Z" stroke="#000" stroke-width="0.25"/></g>
<g transform="matrix(0.9740 0 0 0.9931 109.15 625.80)"><path d="M7.4 0.0C2.5 3.7 0.0 9.0 0.0 14.55C0.0 20.1 2.5 25.4 7.4 29.1L7.7 28.6C3.7 25.1 1.35 19.9 1.35 14.55C1.35 9.2 3.7 4.0 7.7 0.5Z" stroke="#000" stroke-width="0.25"/></g>
<g transform="matrix(1.0000 0 0 1.0000 120.25 627.40)"><path d="M6.2 1.1 C5.0 6.5 2.8 14.5 1.2 18.9" fill="none" stroke="#000" stroke-width="2.0" stroke-linecap="round" stroke-linejoin="round"/><path d="M3.3 0.7 L6.9 0.55" fill="none" stroke="#000" stroke-width="1.15" stroke-linecap="round" stroke-linejoin="round"/><path d="M3.5 13.7 C5.5 10.6 8.5 7.5 10.9 7.6 C12.4 7.7 12.7 8.6 12.4 9.5" fill="none" stroke="#000" stroke-width="1.2" stroke-linecap="round" stroke-linejoin="round"/><path d="M3.8 13.4 C6.0 13.2 9.3 12.9 9.6 15.0 C9.8 16.6 9.0 18.5 10.4 18.9 C11.6 19.2 12.5 18.0 12.9 17.2" fill="none" stroke="#000" stroke-width="1.45" stroke-linecap="round" stroke-linejoin="round"/><circle cx="12.0" cy="9.4" r="1.45"/></g>
<text class="s" transform="matrix(0.2619 0 0 0.2190 135.50 652.00)">2</text>
<text class="s" style="stroke-width:0.61" transform="matrix(0.2498 0 0 0.3434 152.99 647.73)">,</text>
<g transform="matrix(1.0000 0 0 1.0000 166.05 634.20)"><path d="M0.55 4.6 C1.2 2.6 2.4 0.8 3.8 0.75 C5.8 0.7 6.1 2.6 5.4 5.2 C4.8 7.4 4.3 9.0 4.6 10.8 C4.9 12.6 6.2 13.0 7.4 12.9 C10.5 12.6 13.0 8.5 13.0 4.0 C13.0 2.4 12.7 1.6 12.3 1.3" fill="none" stroke="#000" stroke-width="1.25" stroke-linecap="round" stroke-linejoin="round"/><path d="M5.6 3.6 C5.2 6.0 4.5 8.2 4.55 10.4" fill="none" stroke="#000" stroke-width="1.9" stroke-linecap="round" stroke-linejoin="round"/><path d="M13.0 3.8 C13.0 6.5 11.8 9.5 9.6 11.6" fill="none" stroke="#000" stroke-width="1.7" stroke-linecap="round" stroke-linejoin="round"/><circle cx="12.2" cy="2.0" r="1.5"/></g>
<text class="s" transform="matrix(0.2544 0 0 0.2190 181.33 652.00)">2</text>
<g transform="matrix(0.9740 0 0 0.9931 198.05 625.80)"><path d="M0.3 0.0C5.2 3.7 7.7 9.0 7.7 14.55C7.7 20.1 5.2 25.4 0.3 29.1L0.0 28.6C4.0 25.1 6.35 19.9 6.35 14.55C6.35 9.2 4.0 4.0 0.0 0.5Z" stroke="#000" stroke-width="0.25"/></g>
<g transform="matrix(0.9740 0 0 0.9931 210.90 625.80)"><path d="M7.4 0.0C2.5 3.7 0.0 9.0 0.0 14.55C0.0 20.1 2.5 25.4 7.4 29.1L7.7 28.6C3.7 25.1 1.35 19.9 1.35 14.55C1.35 9.2 3.7 4.0 7.7 0.5Z" stroke="#000" stroke-width="0.25"/></g>
<g transform="matrix(1.0000 0 0 1.0000 222.00 627.40)"><path d="M6.2 1.1 C5.0 6.5 2.8 14.5 1.2 18.9" fill="none" stroke="#000" stroke-width="2.0" stroke-linecap="round" stroke-linejoin="round"/><path d="M3.3 0.7 L6.9 0.55" fill="none" stroke="#000" stroke-width="1.15" stroke-linecap="round" stroke-linejoin="round"/><path d="M3.5 13.7 C5.5 10.6 8.5 7.5 10.9 7.6 C12.4 7.7 12.7 8.6 12.4 9.5" fill="none" stroke="#000" stroke-width="1.2" stroke-linecap="round" stroke-linejoin="round"/><path d="M3.8 13.4 C6.0 13.2 9.3 12.9 9.6 15.0 C9.8 16.6 9.0 18.5 10.4 18.9 C11.6 19.2 12.5 18.0 12.9 17.2" fill="none" stroke="#000" stroke-width="1.45" stroke-linecap="round" stroke-linejoin="round"/><circle cx="12.0" cy="9.4" r="1.45"/></g>
<text class="s" transform="matrix(0.2542 0 0 0.2158 237.18 651.79)">3</text>
<text class="s" style="stroke-width:0.61" transform="matrix(0.2498 0 0 0.3434 254.74 647.73)">,</text>
<g transform="matrix(1.0000 0 0 1.0000 267.80 634.20)"><path d="M0.55 4.6 C1.2 2.6 2.4 0.8 3.8 0.75 C5.8 0.7 6.1 2.6 5.4 5.2 C4.8 7.4 4.3 9.0 4.6 10.8 C4.9 12.6 6.2 13.0 7.4 12.9 C10.5 12.6 13.0 8.5 13.0 4.0 C13.0 2.4 12.7 1.6 12.3 1.3" fill="none" stroke="#000" stroke-width="1.25" stroke-linecap="round" stroke-linejoin="round"/><path d="M5.6 3.6 C5.2 6.0 4.5 8.2 4.55 10.4" fill="none" stroke="#000" stroke-width="1.9" stroke-linecap="round" stroke-linejoin="round"/><path d="M13.0 3.8 C13.0 6.5 11.8 9.5 9.6 11.6" fill="none" stroke="#000" stroke-width="1.7" stroke-linecap="round" stroke-linejoin="round"/><circle cx="12.2" cy="2.0" r="1.5"/></g>
<text class="s" transform="matrix(0.2469 0 0 0.2158 283.02 651.79)">3</text>
<g transform="matrix(0.9740 0 0 0.9931 299.80 625.80)"><path d="M0.3 0.0C5.2 3.7 7.7 9.0 7.7 14.55C7.7 20.1 5.2 25.4 0.3 29.1L0.0 28.6C4.0 25.1 6.35 19.9 6.35 14.55C6.35 9.2 4.0 4.0 0.0 0.5Z" stroke="#000" stroke-width="0.25"/></g>
<g transform="matrix(0.9740 0 0 0.9931 336.70 495.40)"><path d="M7.4 0.0C2.5 3.7 0.0 9.0 0.0 14.55C0.0 20.1 2.5 25.4 7.4 29.1L7.7 28.6C3.7 25.1 1.35 19.9 1.35 14.55C1.35 9.2 3.7 4.0 7.7 0.5Z" stroke="#000" stroke-width="0.25"/></g>
<g transform="matrix(1.0000 0 0 1.0000 347.80 497.00)"><path d="M6.2 1.1 C5.0 6.5 2.8 14.5 1.2 18.9" fill="none" stroke="#000" stroke-width="2.0" stroke-linecap="round" stroke-linejoin="round"/><path d="M3.3 0.7 L6.9 0.55" fill="none" stroke="#000" stroke-width="1.15" stroke-linecap="round" stroke-linejoin="round"/><path d="M3.5 13.7 C5.5 10.6 8.5 7.5 10.9 7.6 C12.4 7.7 12.7 8.6 12.4 9.5" fill="none" stroke="#000" stroke-width="1.2" stroke-linecap="round" stroke-linejoin="round"/><path d="M3.8 13.4 C6.0 13.2 9.3 12.9 9.6 15.0 C9.8 16.6 9.0 18.5 10.4 18.9 C11.6 19.2 12.5 18.0 12.9 17.2" fill="none" stroke="#000" stroke-width="1.45" stroke-linecap="round" stroke-linejoin="round"/><circle cx="12.0" cy="9.4" r="1.45"/></g>
<text class="s" transform="matrix(0.2642 0 0 0.2196 362.58 521.60)">1</text>
<text class="s" style="stroke-width:0.61" transform="matrix(0.2498 0 0 0.3434 380.54 517.33)">,</text>
<g transform="matrix(1.0000 0 0 1.0000 393.60 503.80)"><path d="M0.55 4.6 C1.2 2.6 2.4 0.8 3.8 0.75 C5.8 0.7 6.1 2.6 5.4 5.2 C4.8 7.4 4.3 9.0 4.6 10.8 C4.9 12.6 6.2 13.0 7.4 12.9 C10.5 12.6 13.0 8.5 13.0 4.0 C13.0 2.4 12.7 1.6 12.3 1.3" fill="none" stroke="#000" stroke-width="1.25" stroke-linecap="round" stroke-linejoin="round"/><path d="M5.6 3.6 C5.2 6.0 4.5 8.2 4.55 10.4" fill="none" stroke="#000" stroke-width="1.9" stroke-linecap="round" stroke-linejoin="round"/><path d="M13.0 3.8 C13.0 6.5 11.8 9.5 9.6 11.6" fill="none" stroke="#000" stroke-width="1.7" stroke-linecap="round" stroke-linejoin="round"/><circle cx="12.2" cy="2.0" r="1.5"/></g>
<text class="s" transform="matrix(0.2642 0 0 0.2196 408.18 521.60)">1</text>
<g transform="matrix(0.9740 0 0 0.9931 425.60 495.40)"><path d="M0.3 0.0C5.2 3.7 7.7 9.0 7.7 14.55C7.7 20.1 5.2 25.4 0.3 29.1L0.0 28.6C4.0 25.1 6.35 19.9 6.35 14.55C6.35 9.2 4.0 4.0 0.0 0.5Z" stroke="#000" stroke-width="0.25"/></g>
<g transform="matrix(0.9740 0 0 0.9931 401.20 623.90)"><path d="M7.4 0.0C2.5 3.7 0.0 9.0 0.0 14.55C0.0 20.1 2.5 25.4 7.4 29.1L7.7 28.6C3.7 25.1 1.35 19.9 1.35 14.55C1.35 9.2 3.7 4.0 7.7 0.5Z" stroke="#000" stroke-width="0.25"/></g>
<g transform="matrix(1.0000 0 0 1.0000 412.30 625.50)"><path d="M6.2 1.1 C5.0 6.5 2.8 14.5 1.2 18.9" fill="none" stroke="#000" stroke-width="2.0" stroke-linecap="round" stroke-linejoin="round"/><path d="M3.3 0.7 L6.9 0.55" fill="none" stroke="#000" stroke-width="1.15" stroke-linecap="round" stroke-linejoin="round"/><path d="M3.5 13.7 C5.5 10.6 8.5 7.5 10.9 7.6 C12.4 7.7 12.7 8.6 12.4 9.5" fill="none" stroke="#000" stroke-width="1.2" stroke-linecap="round" stroke-linejoin="round"/><path d="M3.8 13.4 C6.0 13.2 9.3 12.9 9.6 15.0 C9.8 16.6 9.0 18.5 10.4 18.9 C11.6 19.2 12.5 18.0 12.9 17.2" fill="none" stroke="#000" stroke-width="1.45" stroke-linecap="round" stroke-linejoin="round"/><circle cx="12.0" cy="9.4" r="1.45"/></g>
<text class="s" transform="matrix(0.2619 0 0 0.2190 427.55 650.10)">2</text>
<text class="s" style="stroke-width:0.61" transform="matrix(0.2498 0 0 0.3434 445.04 645.83)">,</text>
<g transform="matrix(1.0000 0 0 1.0000 458.10 632.30)"><path d="M0.55 4.6 C1.2 2.6 2.4 0.8 3.8 0.75 C5.8 0.7 6.1 2.6 5.4 5.2 C4.8 7.4 4.3 9.0 4.6 10.8 C4.9 12.6 6.2 13.0 7.4 12.9 C10.5 12.6 13.0 8.5 13.0 4.0 C13.0 2.4 12.7 1.6 12.3 1.3" fill="none" stroke="#000" stroke-width="1.25" stroke-linecap="round" stroke-linejoin="round"/><path d="M5.6 3.6 C5.2 6.0 4.5 8.2 4.55 10.4" fill="none" stroke="#000" stroke-width="1.9" stroke-linecap="round" stroke-linejoin="round"/><path d="M13.0 3.8 C13.0 6.5 11.8 9.5 9.6 11.6" fill="none" stroke="#000" stroke-width="1.7" stroke-linecap="round" stroke-linejoin="round"/><circle cx="12.2" cy="2.0" r="1.5"/></g>
<text class="s" transform="matrix(0.2544 0 0 0.2190 473.38 650.10)">2</text>
<g transform="matrix(0.9740 0 0 0.9931 490.10 623.90)"><path d="M0.3 0.0C5.2 3.7 7.7 9.0 7.7 14.55C7.7 20.1 5.2 25.4 0.3 29.1L0.0 28.6C4.0 25.1 6.35 19.9 6.35 14.55C6.35 9.2 4.0 4.0 0.0 0.5Z" stroke="#000" stroke-width="0.25"/></g>
<g transform="matrix(0.9740 0 0 0.9931 508.25 623.90)"><path d="M7.4 0.0C2.5 3.7 0.0 9.0 0.0 14.55C0.0 20.1 2.5 25.4 7.4 29.1L7.7 28.6C3.7 25.1 1.35 19.9 1.35 14.55C1.35 9.2 3.7 4.0 7.7 0.5Z" stroke="#000" stroke-width="0.25"/></g>
<g transform="matrix(1.0000 0 0 1.0000 519.35 625.50)"><path d="M6.2 1.1 C5.0 6.5 2.8 14.5 1.2 18.9" fill="none" stroke="#000" stroke-width="2.0" stroke-linecap="round" stroke-linejoin="round"/><path d="M3.3 0.7 L6.9 0.55" fill="none" stroke="#000" stroke-width="1.15" stroke-linecap="round" stroke-linejoin="round"/><path d="M3.5 13.7 C5.5 10.6 8.5 7.5 10.9 7.6 C12.4 7.7 12.7 8.6 12.4 9.5" fill="none" stroke="#000" stroke-width="1.2" stroke-linecap="round" stroke-linejoin="round"/><path d="M3.8 13.4 C6.0 13.2 9.3 12.9 9.6 15.0 C9.8 16.6 9.0 18.5 10.4 18.9 C11.6 19.2 12.5 18.0 12.9 17.2" fill="none" stroke="#000" stroke-width="1.45" stroke-linecap="round" stroke-linejoin="round"/><circle cx="12.0" cy="9.4" r="1.45"/></g>
<text class="s" transform="matrix(0.2542 0 0 0.2158 534.53 649.89)">3</text>
<text class="s" style="stroke-width:0.61" transform="matrix(0.2498 0 0 0.3434 552.09 645.83)">,</text>
<g transform="matrix(1.0000 0 0 1.0000 565.15 632.30)"><path d="M0.55 4.6 C1.2 2.6 2.4 0.8 3.8 0.75 C5.8 0.7 6.1 2.6 5.4 5.2 C4.8 7.4 4.3 9.0 4.6 10.8 C4.9 12.6 6.2 13.0 7.4 12.9 C10.5 12.6 13.0 8.5 13.0 4.0 C13.0 2.4 12.7 1.6 12.3 1.3" fill="none" stroke="#000" stroke-width="1.25" stroke-linecap="round" stroke-linejoin="round"/><path d="M5.6 3.6 C5.2 6.0 4.5 8.2 4.55 10.4" fill="none" stroke="#000" stroke-width="1.9" stroke-linecap="round" stroke-linejoin="round"/><path d="M13.0 3.8 C13.0 6.5 11.8 9.5 9.6 11.6" fill="none" stroke="#000" stroke-width="1.7" stroke-linecap="round" stroke-linejoin="round"/><circle cx="12.2" cy="2.0" r="1.5"/></g>
<g transform="matrix(1.0000 0 0 1.0000 582.65 622.00)"><path d="M2.2 1.2 C2.6 0.3 3.4 0 4.1 0 C5.0 0 5.6 0.7 5.3 1.6 L1.0 10.9 C0.8 11.2 0.2 11.1 0.1 10.7 Z"/></g>
<text class="s" transform="matrix(0.2518 0 0 0.2173 580.25 655.39)">3</text>
<g transform="matrix(0.9740 0 0 0.9931 597.15 623.90)"><path d="M0.3 0.0C5.2 3.7 7.7 9.0 7.7 14.55C7.7 20.1 5.2 25.4 0.3 29.1L0.0 28.6C4.0 25.1 6.35 19.9 6.35 14.55C6.35 9.2 4.0 4.0 0.0 0.5Z" stroke="#000" stroke-width="0.25"/></g>
<g transform="matrix(0.9740 0 0 0.9931 634.60 495.40)"><path d="M7.4 0.0C2.5 3.7 0.0 9.0 0.0 14.55C0.0 20.1 2.5 25.4 7.4 29.1L7.7 28.6C3.7 25.1 1.35 19.9 1.35 14.55C1.35 9.2 3.7 4.0 7.7 0.5Z" stroke="#000" stroke-width="0.25"/></g>
<g transform="matrix(1.0000 0 0 1.0000 645.70 497.00)"><path d="M6.2 1.1 C5.0 6.5 2.8 14.5 1.2 18.9" fill="none" stroke="#000" stroke-width="2.0" stroke-linecap="round" stroke-linejoin="round"/><path d="M3.3 0.7 L6.9 0.55" fill="none" stroke="#000" stroke-width="1.15" stroke-linecap="round" stroke-linejoin="round"/><path d="M3.5 13.7 C5.5 10.6 8.5 7.5 10.9 7.6 C12.4 7.7 12.7 8.6 12.4 9.5" fill="none" stroke="#000" stroke-width="1.2" stroke-linecap="round" stroke-linejoin="round"/><path d="M3.8 13.4 C6.0 13.2 9.3 12.9 9.6 15.0 C9.8 16.6 9.0 18.5 10.4 18.9 C11.6 19.2 12.5 18.0 12.9 17.2" fill="none" stroke="#000" stroke-width="1.45" stroke-linecap="round" stroke-linejoin="round"/><circle cx="12.0" cy="9.4" r="1.45"/></g>
<text class="s" transform="matrix(0.2642 0 0 0.2196 660.48 521.60)">1</text>
<text class="s" style="stroke-width:0.61" transform="matrix(0.2498 0 0 0.3434 678.44 517.33)">,</text>
<g transform="matrix(1.0000 0 0 1.0000 691.50 503.80)"><path d="M0.55 4.6 C1.2 2.6 2.4 0.8 3.8 0.75 C5.8 0.7 6.1 2.6 5.4 5.2 C4.8 7.4 4.3 9.0 4.6 10.8 C4.9 12.6 6.2 13.0 7.4 12.9 C10.5 12.6 13.0 8.5 13.0 4.0 C13.0 2.4 12.7 1.6 12.3 1.3" fill="none" stroke="#000" stroke-width="1.25" stroke-linecap="round" stroke-linejoin="round"/><path d="M5.6 3.6 C5.2 6.0 4.5 8.2 4.55 10.4" fill="none" stroke="#000" stroke-width="1.9" stroke-linecap="round" stroke-linejoin="round"/><path d="M13.0 3.8 C13.0 6.5 11.8 9.5 9.6 11.6" fill="none" stroke="#000" stroke-width="1.7" stroke-linecap="round" stroke-linejoin="round"/><circle cx="12.2" cy="2.0" r="1.5"/></g>
<text class="s" transform="matrix(0.2642 0 0 0.2196 706.08 521.60)">1</text>
<g transform="matrix(0.9740 0 0 0.9931 723.50 495.40)"><path d="M0.3 0.0C5.2 3.7 7.7 9.0 7.7 14.55C7.7 20.1 5.2 25.4 0.3 29.1L0.0 28.6C4.0 25.1 6.35 19.9 6.35 14.55C6.35 9.2 4.0 4.0 0.0 0.5Z" stroke="#000" stroke-width="0.25"/></g>
<g transform="matrix(0.9740 0 0 0.9931 827.85 495.40)"><path d="M7.4 0.0C2.5 3.7 0.0 9.0 0.0 14.55C0.0 20.1 2.5 25.4 7.4 29.1L7.7 28.6C3.7 25.1 1.35 19.9 1.35 14.55C1.35 9.2 3.7 4.0 7.7 0.5Z" stroke="#000" stroke-width="0.25"/></g>
<g transform="matrix(1.0000 0 0 1.0000 838.95 497.00)"><path d="M6.2 1.1 C5.0 6.5 2.8 14.5 1.2 18.9" fill="none" stroke="#000" stroke-width="2.0" stroke-linecap="round" stroke-linejoin="round"/><path d="M3.3 0.7 L6.9 0.55" fill="none" stroke="#000" stroke-width="1.15" stroke-linecap="round" stroke-linejoin="round"/><path d="M3.5 13.7 C5.5 10.6 8.5 7.5 10.9 7.6 C12.4 7.7 12.7 8.6 12.4 9.5" fill="none" stroke="#000" stroke-width="1.2" stroke-linecap="round" stroke-linejoin="round"/><path d="M3.8 13.4 C6.0 13.2 9.3 12.9 9.6 15.0 C9.8 16.6 9.0 18.5 10.4 18.9 C11.6 19.2 12.5 18.0 12.9 17.2" fill="none" stroke="#000" stroke-width="1.45" stroke-linecap="round" stroke-linejoin="round"/><circle cx="12.0" cy="9.4" r="1.45"/></g>
<text class="s" transform="matrix(0.2259 0 0 0.2203 854.91 521.60)">4</text>
<text class="s" style="stroke-width:0.61" transform="matrix(0.2498 0 0 0.3434 871.69 517.33)">,</text>
<g transform="matrix(1.0000 0 0 1.0000 884.75 503.80)"><path d="M0.55 4.6 C1.2 2.6 2.4 0.8 3.8 0.75 C5.8 0.7 6.1 2.6 5.4 5.2 C4.8 7.4 4.3 9.0 4.6 10.8 C4.9 12.6 6.2 13.0 7.4 12.9 C10.5 12.6 13.0 8.5 13.0 4.0 C13.0 2.4 12.7 1.6 12.3 1.3" fill="none" stroke="#000" stroke-width="1.25" stroke-linecap="round" stroke-linejoin="round"/><path d="M5.6 3.6 C5.2 6.0 4.5 8.2 4.55 10.4" fill="none" stroke="#000" stroke-width="1.9" stroke-linecap="round" stroke-linejoin="round"/><path d="M13.0 3.8 C13.0 6.5 11.8 9.5 9.6 11.6" fill="none" stroke="#000" stroke-width="1.7" stroke-linecap="round" stroke-linejoin="round"/><circle cx="12.2" cy="2.0" r="1.5"/></g>
<text class="s" transform="matrix(0.2194 0 0 0.2203 900.72 521.60)">4</text>
<g transform="matrix(0.9740 0 0 0.9931 916.75 495.40)"><path d="M0.3 0.0C5.2 3.7 7.7 9.0 7.7 14.55C7.7 20.1 5.2 25.4 0.3 29.1L0.0 28.6C4.0 25.1 6.35 19.9 6.35 14.55C6.35 9.2 4.0 4.0 0.0 0.5Z" stroke="#000" stroke-width="0.25"/></g>
<g transform="matrix(0.9740 0 0 0.9931 698.70 623.90)"><path d="M7.4 0.0C2.5 3.7 0.0 9.0 0.0 14.55C0.0 20.1 2.5 25.4 7.4 29.1L7.7 28.6C3.7 25.1 1.35 19.9 1.35 14.55C1.35 9.2 3.7 4.0 7.7 0.5Z" stroke="#000" stroke-width="0.25"/></g>
<g transform="matrix(1.0000 0 0 1.0000 709.80 625.50)"><path d="M6.2 1.1 C5.0 6.5 2.8 14.5 1.2 18.9" fill="none" stroke="#000" stroke-width="2.0" stroke-linecap="round" stroke-linejoin="round"/><path d="M3.3 0.7 L6.9 0.55" fill="none" stroke="#000" stroke-width="1.15" stroke-linecap="round" stroke-linejoin="round"/><path d="M3.5 13.7 C5.5 10.6 8.5 7.5 10.9 7.6 C12.4 7.7 12.7 8.6 12.4 9.5" fill="none" stroke="#000" stroke-width="1.2" stroke-linecap="round" stroke-linejoin="round"/><path d="M3.8 13.4 C6.0 13.2 9.3 12.9 9.6 15.0 C9.8 16.6 9.0 18.5 10.4 18.9 C11.6 19.2 12.5 18.0 12.9 17.2" fill="none" stroke="#000" stroke-width="1.45" stroke-linecap="round" stroke-linejoin="round"/><circle cx="12.0" cy="9.4" r="1.45"/></g>
<text class="s" transform="matrix(0.2619 0 0 0.2190 725.05 650.10)">2</text>
<text class="s" style="stroke-width:0.61" transform="matrix(0.2498 0 0 0.3434 742.54 645.83)">,</text>
<g transform="matrix(1.0000 0 0 1.0000 755.60 632.30)"><path d="M0.55 4.6 C1.2 2.6 2.4 0.8 3.8 0.75 C5.8 0.7 6.1 2.6 5.4 5.2 C4.8 7.4 4.3 9.0 4.6 10.8 C4.9 12.6 6.2 13.0 7.4 12.9 C10.5 12.6 13.0 8.5 13.0 4.0 C13.0 2.4 12.7 1.6 12.3 1.3" fill="none" stroke="#000" stroke-width="1.25" stroke-linecap="round" stroke-linejoin="round"/><path d="M5.6 3.6 C5.2 6.0 4.5 8.2 4.55 10.4" fill="none" stroke="#000" stroke-width="1.9" stroke-linecap="round" stroke-linejoin="round"/><path d="M13.0 3.8 C13.0 6.5 11.8 9.5 9.6 11.6" fill="none" stroke="#000" stroke-width="1.7" stroke-linecap="round" stroke-linejoin="round"/><circle cx="12.2" cy="2.0" r="1.5"/></g>
<text class="s" transform="matrix(0.2544 0 0 0.2190 770.88 650.10)">2</text>
<g transform="matrix(0.9740 0 0 0.9931 787.60 623.90)"><path d="M0.3 0.0C5.2 3.7 7.7 9.0 7.7 14.55C7.7 20.1 5.2 25.4 0.3 29.1L0.0 28.6C4.0 25.1 6.35 19.9 6.35 14.55C6.35 9.2 4.0 4.0 0.0 0.5Z" stroke="#000" stroke-width="0.25"/></g>
<g transform="matrix(0.9740 0 0 0.9931 806.55 623.90)"><path d="M7.4 0.0C2.5 3.7 0.0 9.0 0.0 14.55C0.0 20.1 2.5 25.4 7.4 29.1L7.7 28.6C3.7 25.1 1.35 19.9 1.35 14.55C1.35 9.2 3.7 4.0 7.7 0.5Z" stroke="#000" stroke-width="0.25"/></g>
<g transform="matrix(1.0000 0 0 1.0000 817.65 625.50)"><path d="M6.2 1.1 C5.0 6.5 2.8 14.5 1.2 18.9" fill="none" stroke="#000" stroke-width="2.0" stroke-linecap="round" stroke-linejoin="round"/><path d="M3.3 0.7 L6.9 0.55" fill="none" stroke="#000" stroke-width="1.15" stroke-linecap="round" stroke-linejoin="round"/><path d="M3.5 13.7 C5.5 10.6 8.5 7.5 10.9 7.6 C12.4 7.7 12.7 8.6 12.4 9.5" fill="none" stroke="#000" stroke-width="1.2" stroke-linecap="round" stroke-linejoin="round"/><path d="M3.8 13.4 C6.0 13.2 9.3 12.9 9.6 15.0 C9.8 16.6 9.0 18.5 10.4 18.9 C11.6 19.2 12.5 18.0 12.9 17.2" fill="none" stroke="#000" stroke-width="1.45" stroke-linecap="round" stroke-linejoin="round"/><circle cx="12.0" cy="9.4" r="1.45"/></g>
<text class="s" transform="matrix(0.2542 0 0 0.2158 832.83 649.89)">3</text>
<text class="s" style="stroke-width:0.61" transform="matrix(0.2498 0 0 0.3434 850.39 645.83)">,</text>
<g transform="matrix(1.0000 0 0 1.0000 863.45 632.30)"><path d="M0.55 4.6 C1.2 2.6 2.4 0.8 3.8 0.75 C5.8 0.7 6.1 2.6 5.4 5.2 C4.8 7.4 4.3 9.0 4.6 10.8 C4.9 12.6 6.2 13.0 7.4 12.9 C10.5 12.6 13.0 8.5 13.0 4.0 C13.0 2.4 12.7 1.6 12.3 1.3" fill="none" stroke="#000" stroke-width="1.25" stroke-linecap="round" stroke-linejoin="round"/><path d="M5.6 3.6 C5.2 6.0 4.5 8.2 4.55 10.4" fill="none" stroke="#000" stroke-width="1.9" stroke-linecap="round" stroke-linejoin="round"/><path d="M13.0 3.8 C13.0 6.5 11.8 9.5 9.6 11.6" fill="none" stroke="#000" stroke-width="1.7" stroke-linecap="round" stroke-linejoin="round"/><circle cx="12.2" cy="2.0" r="1.5"/></g>
<g transform="matrix(1.0000 0 0 1.0000 880.95 622.00)"><path d="M2.2 1.2 C2.6 0.3 3.4 0 4.1 0 C5.0 0 5.6 0.7 5.3 1.6 L1.0 10.9 C0.8 11.2 0.2 11.1 0.1 10.7 Z"/></g>
<text class="s" transform="matrix(0.2518 0 0 0.2173 878.55 655.39)">3</text>
<g transform="matrix(0.9740 0 0 0.9931 895.45 623.90)"><path d="M0.3 0.0C5.2 3.7 7.7 9.0 7.7 14.55C7.7 20.1 5.2 25.4 0.3 29.1L0.0 28.6C4.0 25.1 6.35 19.9 6.35 14.55C6.35 9.2 4.0 4.0 0.0 0.5Z" stroke="#000" stroke-width="0.25"/></g>
</svg>
</body></html>
